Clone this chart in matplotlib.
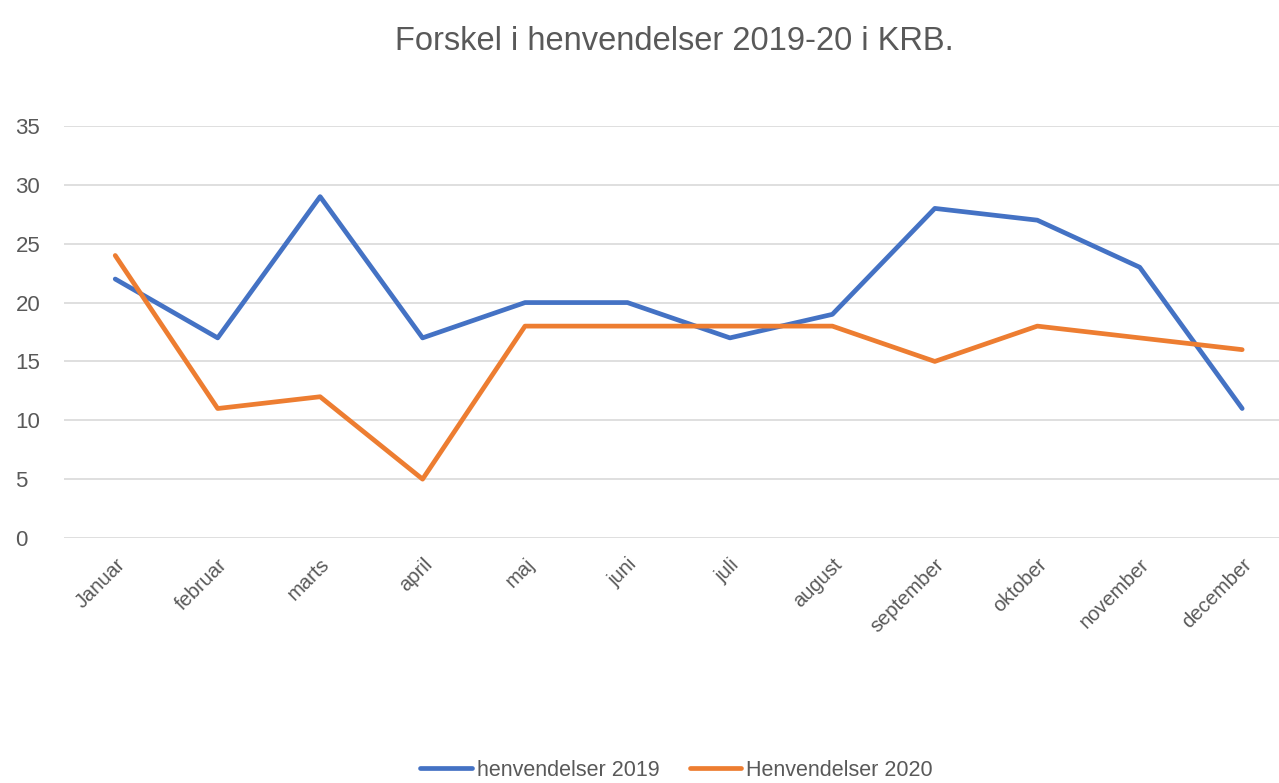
import numpy as np
import matplotlib.pyplot as plt

months = ["Januar", "februar", "marts", "april", "maj", "juni", "juli",
          "august", "september", "oktober", "november", "december"]
h2019 = [22, 17, 29, 17, 20, 20, 17, 19, 28, 27, 23, 11]
h2020 = [24, 11, 12, 5, 18, 18, 18, 18, 15, 18, 17, 16]

plt.rcParams['font.family'] = ['Liberation Sans', 'DejaVu Sans']

fig = plt.figure(figsize=(12.79, 7.83), dpi=100)
ax = fig.add_axes([64 / 1279, (783 - 538) / 783, 1 - 64 / 1279, (538 - 126) / 783])

x = np.arange(len(months))
ax.plot(x, h2019, color="#4472C4", lw=3.4, solid_capstyle="round",
        solid_joinstyle="round", label="henvendelser 2019")
ax.plot(x, h2020, color="#ED7D31", lw=3.4, solid_capstyle="round",
        solid_joinstyle="round", label="Henvendelser 2020")

ax.set_ylim(0, 35)
ax.set_xlim(-0.5, (1279 - 64) / 102.45 - 0.5)
ax.set_yticks(range(0, 36, 5))
ax.set_xticks(x)
ax.set_xticklabels(months, rotation=45, ha="right", rotation_mode="anchor")
ax.tick_params(length=0, labelsize=14.5, colors="#595959", pad=12)
ax.tick_params(axis="y", pad=35, labelsize=16)
for lab in ax.get_yticklabels():
    lab.set_horizontalalignment("left")
ax.grid(axis="y", color="#D9D9D9", lw=1.2)
ax.set_axisbelow(True)
for s in ax.spines.values():
    s.set_visible(False)

fig.text(0.527, 1 - 42 / 783, "Forskel i henvendelser 2019-20 i KRB.",
         ha="center", va="center", fontsize=23.5, color="#595959")

fig.legend(loc="center", bbox_to_anchor=(0.529, 1 - 770 / 783), ncol=2,
           frameon=False, fontsize=15.5, handlelength=2.4, handletextpad=0.23,
           columnspacing=1.4, labelcolor="#595959")

fig.savefig("out.png", dpi=100)
